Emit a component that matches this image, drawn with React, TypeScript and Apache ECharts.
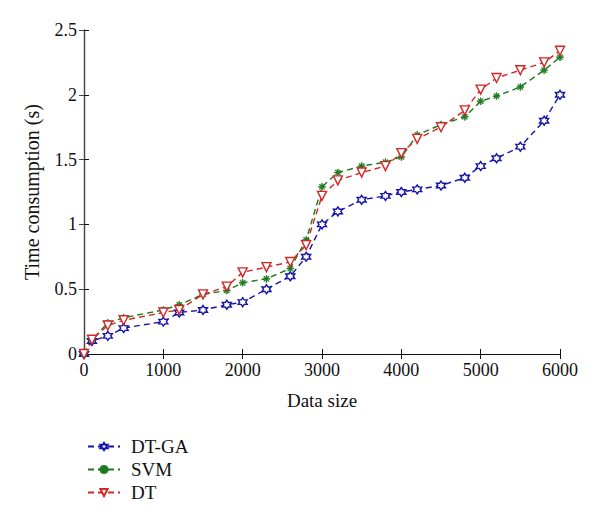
import React, { useEffect, useRef } from "react";
import * as echarts from "echarts";

const xValues = [0, 100, 300, 500, 1000, 1200, 1500, 1800, 2000, 2300, 2600, 2800, 3000, 3200, 3500, 3800, 4000, 4200, 4500, 4800, 5000, 5200, 5500, 5800, 6000];
const dtgaValues = [0, 0.1, 0.14, 0.2, 0.25, 0.32, 0.34, 0.38, 0.4, 0.5, 0.6, 0.75, 1.0, 1.1, 1.19, 1.22, 1.25, 1.27, 1.3, 1.36, 1.45, 1.51, 1.6, 1.8, 2.0];
const svmValues = [0, 0.11, 0.24, 0.28, 0.34, 0.38, 0.46, 0.49, 0.55, 0.58, 0.66, 0.88, 1.29, 1.4, 1.45, 1.48, 1.52, 1.69, 1.77, 1.83, 1.95, 1.99, 2.06, 2.19, 2.29];
const dtValues = [0, 0.11, 0.22, 0.26, 0.32, 0.34, 0.46, 0.52, 0.63, 0.67, 0.71, 0.84, 1.22, 1.34, 1.4, 1.45, 1.55, 1.66, 1.75, 1.88, 2.04, 2.13, 2.19, 2.25, 2.34];
const seriesNames = ["DT-GA", "SVM", "DT"];

const STAR = "path://M0,-10L2.89,-5L8.66,-5L5.77,0L8.66,5L2.89,5L0,10L-2.89,5L-8.66,5L-5.77,0L-8.66,-5L-2.89,-5Z";
const ASTERISK = "path://M-1.2,-10H1.2V10H-1.2Z M-10,-1.2H10V1.2H-10Z M-7.9,-6.2L-6.2,-7.9L7.9,6.2L6.2,7.9Z M6.2,-7.9L7.9,-6.2L-6.2,7.9L-7.9,6.2Z";

const FONT = "'Liberation Serif', 'DejaVu Serif', serif";

export default function App() {
  const ref = useRef<HTMLDivElement>(null);
  useEffect(() => {
    if (!ref.current) return;
    const chart = echarts.init(ref.current, undefined, { renderer: "svg" });
    const pair = (ys: number[]) => xValues.map((x, i) => [x, ys[i]]);
    const axisLine = { show: true, lineStyle: { color: "#111", width: 1.2 } };
    const baseSeries = (name: string, ys: number[], color: string, symbol: string, size: number, hollow: boolean, rotate = 0) => ({
      name,
      type: "line",
      data: pair(ys),
      symbol,
      symbolSize: size,
      symbolRotate: rotate,
      showAllSymbol: true,
      lineStyle: { color, width: 1.4, type: [6, 4] },
      itemStyle: { color: hollow ? "#fff" : color, borderColor: color, borderWidth: hollow ? 1.4 : 0.6 },
      emphasis: { disabled: true },
    });
    chart.setOption({
      animation: false,
      backgroundColor: "#fff",
      textStyle: { fontFamily: FONT },
      grid: { left: 84, right: 40, top: 30, bottom: 173 },
      legend: {
        data: seriesNames,
        orient: "vertical",
        left: 82,
        top: 432,
        itemWidth: 32,
        itemHeight: 9,
        itemGap: 4,
        textStyle: { fontFamily: FONT, fontSize: 19, color: "#111", padding: [0, 0, 0, 6] },
      },
      xAxis: [
        {
          type: "value",
          min: 0,
          max: 6000,
          interval: 1000,
          name: "Data size",
          nameLocation: "middle",
          nameGap: 37,
          nameTextStyle: { fontFamily: FONT, fontSize: 19, color: "#111" },
          axisLine,
          axisTick: { show: true, inside: true, length: 5, lineStyle: { color: "#111" } },
          axisLabel: { fontFamily: FONT, fontSize: 18, color: "#111", margin: 7, formatter: (v: number) => String(v) },
          splitLine: { show: false },
        },
        {
          type: "value",
          position: "top",
          min: 0,
          max: 6000,
          interval: 1000,
          axisLine,
          axisTick: { show: true, inside: true, length: 5, lineStyle: { color: "#111" } },
          axisLabel: { show: false },
          splitLine: { show: false },
        },
      ],
      yAxis: [
        {
          type: "value",
          min: 0,
          max: 2.5,
          interval: 0.5,
          name: "Time consumption (s)",
          nameLocation: "middle",
          nameGap: 42,
          nameTextStyle: { fontFamily: FONT, fontSize: 20, color: "#111" },
          axisLine,
          axisTick: { show: true, inside: true, length: 5, lineStyle: { color: "#111" } },
          axisLabel: { fontFamily: FONT, fontSize: 18, color: "#111", margin: 7 },
          splitLine: { show: false },
        },
        {
          type: "value",
          position: "right",
          min: 0,
          max: 2.5,
          interval: 0.5,
          axisLine: { show: true, lineStyle: { color: "#444", width: 1.2 } },
          axisTick: { show: true, inside: true, length: 5, lineStyle: { color: "#444" } },
          axisLabel: { show: false },
          splitLine: { show: false },
        },
      ],
      series: [
        baseSeries(seriesNames[0], dtgaValues, "#1414a8", STAR, 9, true),
        baseSeries(seriesNames[1], svmValues, "#1c7a1c", ASTERISK, 7, false),
        baseSeries(seriesNames[2], dtValues, "#d42626", "triangle", 9, true, 180),
      ],
    });
    return () => chart.dispose();
  }, []);
  return <div ref={ref} style={{ width: 600, height: 527, position: "absolute", left: 0, top: 0 }} />;
}
